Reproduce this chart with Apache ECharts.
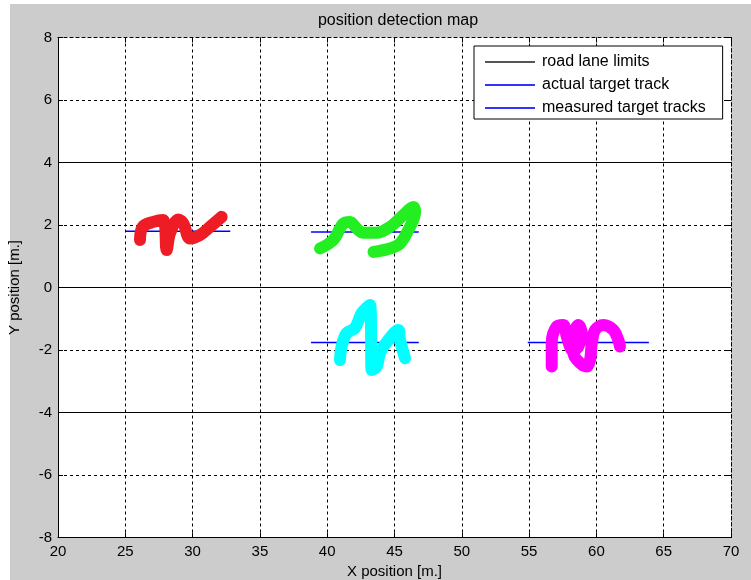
<!DOCTYPE html>
<html><head><meta charset="utf-8">
<script src="https://cdn.jsdelivr.net/npm/echarts@6/dist/echarts.min.js"></script>
<style>
html,body{margin:0;padding:0;background:#fff;width:751px;height:580px;overflow:hidden}
#bg{position:absolute;left:10px;top:4px;right:0;bottom:0;background:#cccccc}
#main{position:absolute;left:0;top:0;width:751px;height:580px}
</style></head><body><div id="bg"></div><div id="main"></div>
<script>
const chartTitle = 'position detection map';
const xAxisName = 'X position [m.]';
const yAxisName = 'Y position [m.]';
const legendNames = ['road lane limits', 'actual target track', 'measured target tracks'];
const xTicks = [20, 25, 30, 35, 40, 45, 50, 55, 60, 65, 70];
const yTicks = [-8, -6, -4, -2, 0, 2, 4, 6, 8];
const laneY = [4, 0, -4];
const actualStartX = [25, 38.8, 38.8, 54.9];
const actualEndX = [32.8, 46.8, 46.8, 63.9];
const actualY = [1.8, 1.78, -1.76, -1.76];
const redMeasured = [[26.09,1.52],[26.29,1.94],[27.08,2.10],[27.82,2.16],[28.07,1.20],[28.32,1.73],[28.94,2.18],[29.31,2.05],[29.81,1.57],[30.55,1.68],[31.29,1.94],[32.16,2.26]];
const greenMeasured = [[39.47,1.25],[40.45,1.52],[41.2,2.05],[41.7,2.1],[42.19,1.89],[42.69,1.75],[43.68,1.75],[44.67,1.94],[45.66,2.32],[46.4,2.58],[46.53,2.42],[46.03,1.84],[45.41,1.41],[44.67,1.25],[43.44,1.14]];
const cyanMeasured = [[40.95,-2.32],[41.07,-1.89],[41.44,-1.46],[42.06,-1.30],[42.56,-0.82],[43.18,-0.56],[43.25,-1.14],[43.3,-2.64],[43.68,-2.53],[43.92,-2.10],[44.54,-1.68],[45.28,-1.36],[45.41,-1.68],[45.78,-2.26]];
const magentaMeasured = [[56.68,-2.53],[56.68,-1.78],[57.05,-1.25],[57.54,-1.20],[57.8,-1.57],[58.17,-2.0],[58.42,-1.36],[58.66,-1.20],[58.91,-1.46],[58.66,-1.89],[58.29,-2.10],[58.79,-2.42],[59.29,-2.53],[59.53,-2.32],[59.66,-1.78],[59.9,-1.36],[60.52,-1.20],[61.26,-1.36],[61.63,-1.68],[61.75,-1.89]];
const measuredColors = ['#ee1d25', '#22ee22', '#00ffff', '#ff00ff'];

const FONT = "'Liberation Sans', Arial, sans-serif";
const series = [];
laneY.forEach((y, i) => {
  series.push({
    name: i === 0 ? legendNames[0] : 'lane' + i,
    type: 'line', data: [[xTicks[0], y], [xTicks[xTicks.length - 1], y]],
    showSymbol: false, silent: true, z: 3,
    lineStyle: { color: '#000', width: 1 }, itemStyle: { color: '#000' }
  });
});
actualY.forEach((y, i) => {
  series.push({
    name: i === 0 ? legendNames[1] : 'actual' + i,
    type: 'line', data: [[actualStartX[i], y], [actualEndX[i], y]],
    showSymbol: false, silent: true, z: 4,
    lineStyle: { color: '#0000ff', width: 1.5 }, itemStyle: { color: '#0000ff' }
  });
});
[redMeasured, greenMeasured, cyanMeasured, magentaMeasured].forEach((d, i) => {
  series.push({
    name: i === 0 ? legendNames[2] : 'measured' + i,
    type: 'line', data: d, smooth: 0.35,
    showSymbol: false, silent: true, z: 5,
    lineStyle: { color: measuredColors[i], width: 12, cap: 'round', join: 'round' },
    itemStyle: { color: measuredColors[i] }
  });
});

const chart = echarts.init(document.getElementById('main'), null, { renderer: 'canvas' });
chart.setOption({
  animation: false,
  backgroundColor: 'transparent',
  title: {
    text: chartTitle, left: 393, top: 8, textAlign: 'center',
    textStyle: { fontFamily: FONT, fontSize: 16, fontWeight: 'normal', color: '#000' }
  },
  legend: {
    orient: 'vertical', left: 474, top: 46,
    padding: [8, 17, 3, 11], itemGap: 7,
    backgroundColor: '#fff', borderColor: '#000', borderWidth: 1, borderRadius: 0,
    icon: 'rect', itemWidth: 50, itemHeight: 2,
    itemStyle: { borderWidth: 0, borderColor: 'transparent' },
    textStyle: { fontFamily: FONT, fontSize: 16, color: '#000', padding: [0, 0, 0, 2] },
    selectedMode: false,
    data: [
      { name: legendNames[0], itemStyle: { color: '#555', borderWidth: 0, borderColor: 'transparent' } },
      { name: legendNames[1], itemStyle: { color: '#3333ff', borderWidth: 0, borderColor: 'transparent' } },
      { name: legendNames[2], itemStyle: { color: '#3333ff', borderWidth: 0, borderColor: 'transparent' } }
    ]
  },
  grid: { left: 58, right: 20, top: 37.5, bottom: 42.5, show: true, backgroundColor: '#fff', borderWidth: 0, outerBoundsMode: 'none', containLabel: false },
  xAxis: [{
    type: 'value', position: 'bottom', min: xTicks[0], max: xTicks[xTicks.length - 1], interval: 5,
    name: xAxisName, nameLocation: 'middle', nameGap: 27,
    nameTextStyle: { fontFamily: FONT, fontSize: 15, color: '#000' },
    axisLine: { show: true, onZero: false, lineStyle: { color: '#000', width: 1 } },
    axisTick: { show: true, inside: true, length: 5, lineStyle: { color: '#000' } },
    axisLabel: { color: '#000', fontFamily: FONT, fontSize: 15, margin: 7 },
    splitLine: { show: true, lineStyle: { color: '#000', width: 1, type: [3, 3] } }
  }, {
    type: 'value', position: 'top', min: xTicks[0], max: xTicks[xTicks.length - 1], interval: 5,
    axisLine: { show: true, onZero: false, lineStyle: { color: '#000', width: 1, type: [3, 3] } },
    axisTick: { show: true, inside: true, length: 5, lineStyle: { color: '#000' } },
    axisLabel: { show: false }, splitLine: { show: false }
  }],
  yAxis: [{
    type: 'value', position: 'left', min: yTicks[0], max: yTicks[yTicks.length - 1], interval: 2,
    name: yAxisName, nameLocation: 'middle', nameGap: 36,
    nameTextStyle: { fontFamily: FONT, fontSize: 15, color: '#000' },
    axisLine: { show: true, onZero: false, lineStyle: { color: '#000', width: 1 } },
    axisTick: { show: true, inside: true, length: 5, lineStyle: { color: '#000' } },
    axisLabel: { color: '#000', fontFamily: FONT, fontSize: 15, margin: 6 },
    splitLine: { show: true, lineStyle: { color: '#000', width: 1, type: [3, 3] } }
  }, {
    type: 'value', position: 'right', min: yTicks[0], max: yTicks[yTicks.length - 1], interval: 2,
    axisLine: { show: true, onZero: false, lineStyle: { color: '#000', width: 1, type: [3, 3] } },
    axisTick: { show: true, inside: true, length: 5, lineStyle: { color: '#000' } },
    axisLabel: { show: false }, splitLine: { show: false }
  }],
  series: series
});
</script></body></html>
